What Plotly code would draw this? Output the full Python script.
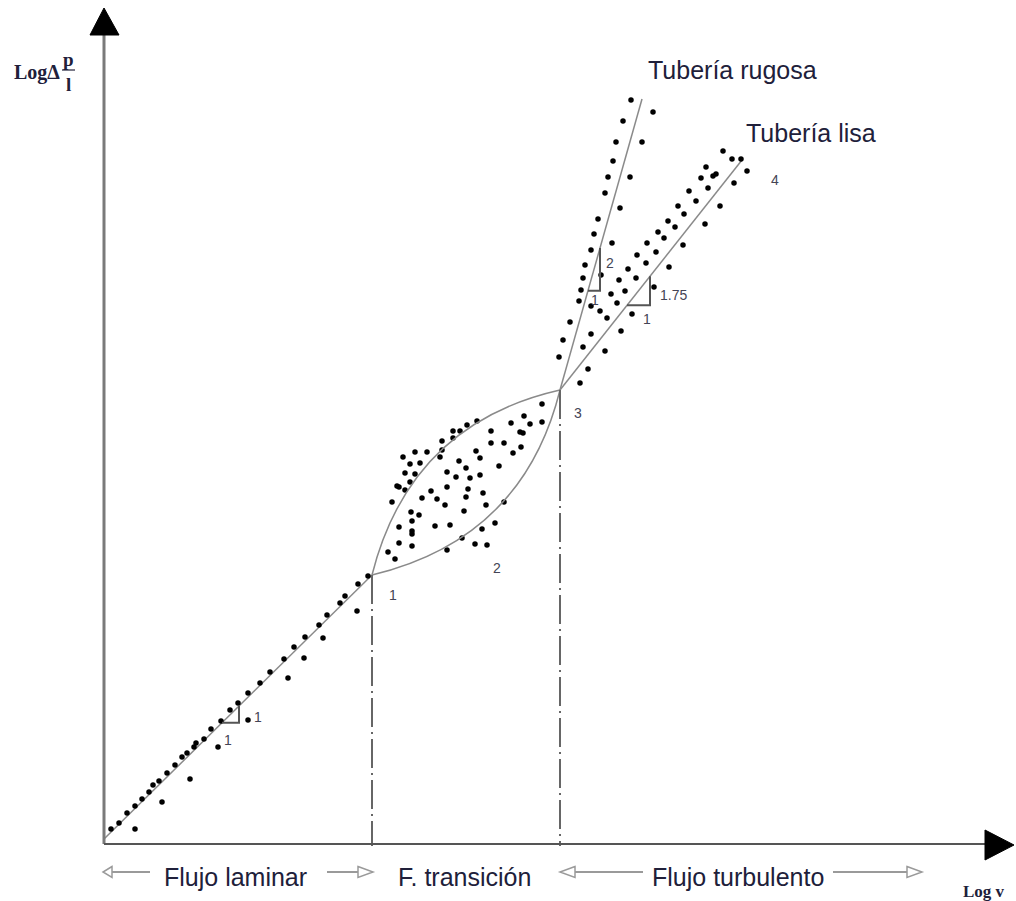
import plotly.graph_objects as go

# ---- measured points (x = log v, y = log Δp/l, arbitrary units) ----
laminar_x = [0.07, 0.15, 0.23, 0.31, 0.31, 0.38, 0.45, 0.49, 0.55, 0.58, 0.63, 0.71, 0.78, 0.83,
             0.86, 0.90, 0.92, 1.00, 1.07, 1.14, 1.17, 1.26, 1.34, 1.44, 1.44, 1.56, 1.66, 1.84,
             1.80, 1.90, 2.00, 2.01, 2.15, 2.19, 2.23, 2.36, 2.41, 2.53, 2.54, 2.64]
laminar_y = [0.15, 0.21, 0.31, 0.15, 0.38, 0.45, 0.52, 0.59, 0.63, 0.42, 0.71, 0.79, 0.87, 0.91,
             0.65, 0.97, 1.01, 1.05, 1.15, 0.97, 1.23, 1.34, 1.41, 1.24, 1.51, 1.61, 1.72, 1.66,
             1.85, 1.97, 1.86, 2.07, 2.19, 2.06, 2.29, 2.41, 2.48, 2.33, 2.60, 2.68]

transition_x = [4.38, 4.20, 4.07, 4.26, 4.38, 3.73, 3.63, 3.56, 3.49, 3.49, 3.38, 3.87, 4.16, 4.19,
                3.87, 4.00, 4.17, 4.09, 3.72, 3.38, 3.36, 3.23, 3.11, 2.99, 3.06, 3.16, 3.55, 3.76,
                3.95, 3.62, 3.01, 3.11, 3.43, 3.52, 3.66, 3.76, 3.06, 2.93, 2.95, 3.01, 3.27, 3.43,
                3.64, 3.79, 3.18, 3.33, 3.62, 2.88, 3.41, 3.82, 4.00, 3.07, 3.60, 3.15, 3.08, 2.95,
                3.08, 3.08, 3.31, 3.46, 3.91, 3.78, 2.95, 3.08, 3.58, 3.71, 3.83, 3.43, 2.84, 2.91]
transition_y = [4.40, 4.28, 4.21, 4.20, 4.22, 4.23, 4.19, 4.13, 4.13, 4.06, 4.03, 4.13, 4.12, 4.11,
                4.01, 4.01, 3.97, 3.91, 3.93, 3.94, 3.87, 3.92, 3.92, 3.87, 3.80, 3.81, 3.83, 3.86,
                3.78, 3.76, 3.71, 3.70, 3.72, 3.67, 3.66, 3.69, 3.62, 3.58, 3.57, 3.54, 3.53, 3.57,
                3.55, 3.51, 3.46, 3.45, 3.47, 3.42, 3.39, 3.39, 3.42, 3.32, 3.33, 3.29, 3.23, 3.17,
                3.13, 3.10, 3.18, 3.19, 3.21, 3.15, 3.01, 2.98, 3.06, 3.00, 2.99, 2.94, 2.92, 2.85]

rough_x = [5.27, 5.49, 5.19, 5.12, 5.38, 5.09, 5.04, 5.26, 5.01, 5.16, 4.94, 4.90, 5.08, 4.87,
           4.81, 4.79, 4.97, 4.77, 4.75, 4.87, 4.66, 4.87, 4.59, 4.79, 4.55]
rough_y = [7.44, 7.32, 7.23, 7.02, 7.02, 6.83, 6.67, 6.67, 6.51, 6.36, 6.25, 6.10, 6.01, 5.94,
           5.79, 5.66, 5.69, 5.54, 5.43, 5.38, 5.22, 5.10, 5.04, 4.97, 4.87]

smooth_x = [6.19, 6.28, 6.37, 6.43, 6.02, 6.12, 6.09, 5.97, 6.30, 6.04, 5.85, 5.92, 6.16, 5.74,
            5.80, 5.64, 5.71, 6.01, 5.54, 5.60, 5.43, 5.79, 5.52, 5.33, 5.42, 5.24, 5.65, 5.15,
            5.32, 5.21, 5.07, 5.13, 4.96, 5.03, 5.50, 5.28, 5.17, 5.01, 4.84, 4.76]
smooth_y = [6.93, 6.85, 6.85, 6.73, 6.77, 6.70, 6.68, 6.66, 6.61, 6.56, 6.53, 6.43, 6.38, 6.38,
            6.30, 6.23, 6.17, 6.20, 6.12, 6.06, 6.01, 5.99, 5.92, 5.89, 5.81, 5.75, 5.77, 5.64,
            5.66, 5.53, 5.50, 5.41, 5.33, 5.26, 5.57, 5.30, 5.13, 4.93, 4.75, 4.61]

# ---- regime boundaries and fitted lines ----
origin = (0.0, 0.05)
p1 = (2.68, 2.69)          # end of laminar flow
p3 = (4.56, 4.54)          # start of turbulent flow
rough_end = (5.38, 7.45)   # Tubería rugosa
smooth_end = (6.38, 6.84)  # Tubería lisa
lens_upper_ctrl = (3.06, 4.20)
lens_lower_ctrl = (4.19, 3.05)

# slope triangles: (line start, line end, x where the triangle starts, run)
triangles = [
    (origin, p1, 1.18, 0.17),
    (p3, rough_end, 4.84, 0.12),
    (p3, smooth_end, 5.23, 0.23),
]

# small labels: (text, x, y)
small_labels = [
    ("1", 1.24, 1.04), ("1", 1.54, 1.27),
    ("2", 5.06, 5.81), ("1", 4.91, 5.44),
    ("1.75", 5.69, 5.49), ("1", 5.43, 5.25),
    ("1", 2.89, 2.49), ("2", 3.93, 2.76), ("3", 4.74, 4.31), ("4", 6.71, 6.64),
]

AX0, AX1 = -1.04, 9.12
AY0, AY1 = -0.57, 8.44
LINE = "#8a8a8a"
TEXT = "#20203a"


def y_on(a, b, x):
    return a[1] + (b[1] - a[1]) * (x - a[0]) / (b[0] - a[0])


fig = go.Figure()

# fitted straight lines
for a, b in [(origin, p1), (p3, rough_end), (p3, smooth_end)]:
    fig.add_trace(go.Scatter(x=[a[0], b[0]], y=[a[1], b[1]], mode="lines",
                             line=dict(color=LINE, width=1.5), hoverinfo="skip"))

# data points
for xs, ys in [(laminar_x, laminar_y), (transition_x, transition_y),
               (rough_x, rough_y), (smooth_x, smooth_y)]:
    fig.add_trace(go.Scatter(x=xs, y=ys, mode="markers",
                             marker=dict(color="black", size=5.5)))

shapes = []

# transition lens
for c in (lens_upper_ctrl, lens_lower_ctrl):
    shapes.append(dict(type="path", xref="x", yref="y",
                       path=f"M {p1[0]},{p1[1]} Q {c[0]},{c[1]} {p3[0]},{p3[1]}",
                       line=dict(color=LINE, width=1.5)))

# slope triangles
for a, b, x0, run in triangles:
    yb = y_on(a, b, x0)
    yt = y_on(a, b, x0 + run)
    shapes.append(dict(type="path", xref="x", yref="y",
                       path=f"M {x0},{yb} L {x0 + run},{yb} L {x0 + run},{yt}",
                       line=dict(color="#555555", width=2)))

# regime boundaries (dash-dot verticals)
for p in (p1, p3):
    shapes.append(dict(type="line", xref="x", yref="y", x0=p[0], x1=p[0], y0=p[1], y1=-0.02,
                       line=dict(color="#666666", width=2, dash="29px,5px,2px,5px")))

# axes with solid arrow heads
shapes.append(dict(type="line", xref="x", yref="y", x0=0, x1=0, y0=0, y1=8.12,
                   line=dict(color="#7a7a7a", width=3)))
shapes.append(dict(type="path", xref="x", yref="y",
                   path="M -0.14,8.09 L 0.15,8.09 L 0.0,8.36 Z",
                   fillcolor="black", line=dict(color="black", width=1)))
shapes.append(dict(type="line", xref="x", yref="y", x0=0, x1=8.82, y0=0, y1=0,
                   line=dict(color="#555555", width=2)))
shapes.append(dict(type="path", xref="x", yref="y",
                   path="M 8.81,0.14 L 8.81,-0.16 L 9.10,-0.01 Z",
                   fillcolor="black", line=dict(color="black", width=1)))

# regime span arrows with hollow heads
ARW = "#9a9a9a"
ay = -0.28


def hollow_head(tip, base):
    h = 0.055
    return dict(type="path", xref="x", yref="y",
                path=f"M {base},{ay + h} L {tip},{ay} L {base},{ay - h} Z",
                fillcolor="white", line=dict(color=ARW, width=1.5))


spans = [(-0.01, 0.08, 0.46, 2.23, 2.54, 2.69),
         (4.56, 4.71, 5.39, 7.29, 8.03, 8.18)]
for tipl, basel, endl, startr, baser, tipr in spans:
    shapes.append(dict(type="line", xref="x", yref="y", x0=basel, x1=endl, y0=ay, y1=ay,
                       line=dict(color=ARW, width=2)))
    shapes.append(dict(type="line", xref="x", yref="y", x0=startr, x1=baser, y0=ay, y1=ay,
                       line=dict(color=ARW, width=2)))
    shapes.append(hollow_head(tipl, basel))
    shapes.append(hollow_head(tipr, baser))

# fraction bar of the y-axis title
shapes.append(dict(type="line", xref="x", yref="y", x0=-0.42, x1=-0.29, y0=7.74, y1=7.74,
                   line=dict(color=TEXT, width=1.2)))

annotations = []


def note(text, x, y, size, family="Liberation Sans, Arial, sans-serif",
         xanchor="center", color=TEXT):
    annotations.append(dict(text=text, x=x, y=y, xref="x", yref="y", showarrow=False,
                            xanchor=xanchor, yanchor="middle",
                            font=dict(size=size, family=family, color=color)))


for t, x, y in small_labels:
    note(t, x, y, 14, color="#444455")

note("Tubería rugosa", 5.42, 7.74, 25, xanchor="left")
note("Tubería lisa", 6.40, 7.11, 25, xanchor="left")
note("Flujo laminar", 1.31, -0.33, 25)
note("F. transición", 3.60, -0.33, 25)
note("Flujo turbulento", 6.335, -0.33, 25)

serif = "Liberation Serif, Times New Roman, serif"
note("<b>Log v</b>", 8.57, -0.47, 17, family=serif, xanchor="left")
note("<b>LogΔ</b>", -0.67, 7.72, 20, family=serif)
note("<b>p</b>", -0.355, 7.85, 19, family=serif)
note("<b>l</b>", -0.355, 7.60, 19, family=serif)

fig.update_layout(
    width=1016, height=901,
    margin=dict(l=0, r=0, t=0, b=0),
    paper_bgcolor="white", plot_bgcolor="white",
    showlegend=False,
    xaxis=dict(range=[AX0, AX1], visible=False, fixedrange=True),
    yaxis=dict(range=[AY0, AY1], visible=False, fixedrange=True),
    shapes=shapes, annotations=annotations,
)

fig.write_html("out.html", config={"displayModeBar": False})
